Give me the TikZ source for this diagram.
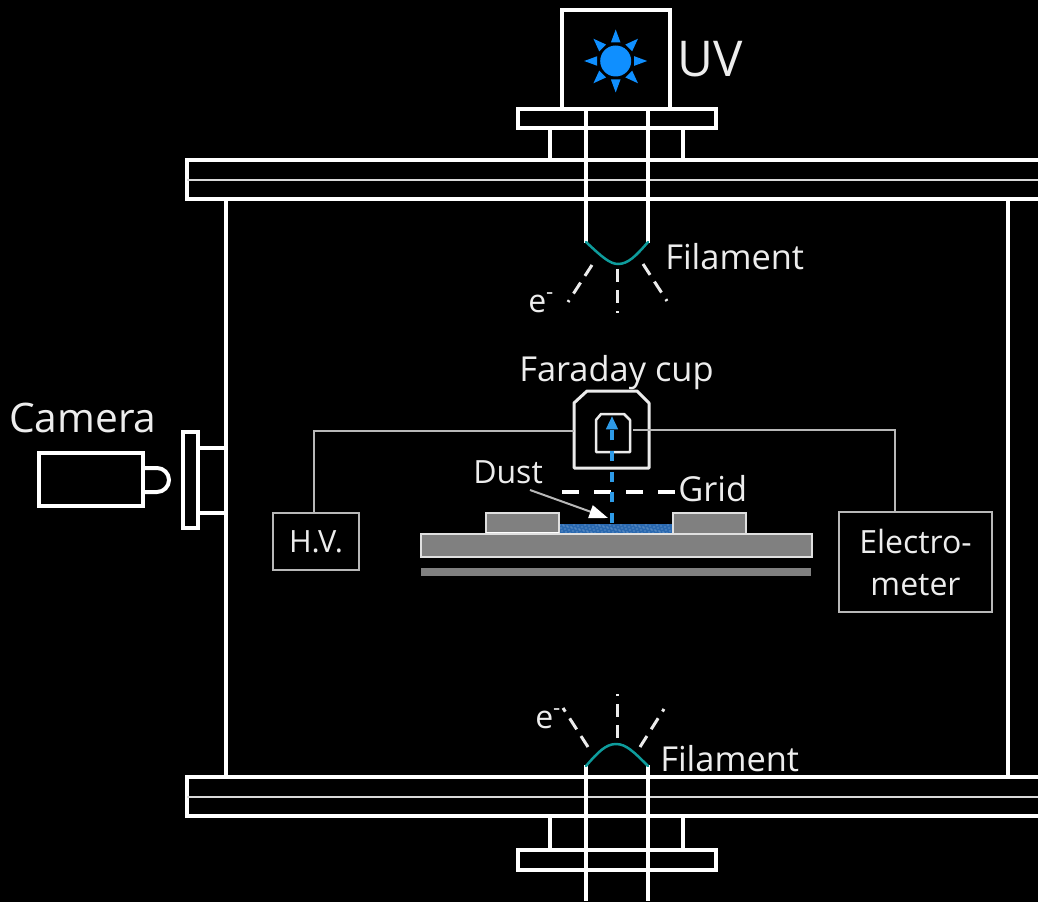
\documentclass[tikz,border=0pt]{standalone}
\usepackage{fontspec}
\setmainfont{Open Sans}
\usetikzlibrary{arrows.meta}
\definecolor{sunblue}{HTML}{0F8FFF}
\definecolor{rayblue}{HTML}{2E9BE8}
\definecolor{teal2}{HTML}{0E9C9C}
\definecolor{wiregrey}{HTML}{B8B8B8}
\definecolor{slabgrey}{HTML}{808080}
\definecolor{dustblue}{HTML}{2A69B0}
\definecolor{txt}{HTML}{EDEDED}
\tikzset{
  px/.style={line width=#1*0.75pt},
  hw/.style={draw=white,px=4,line join=miter},
  thin/.style={draw=white!85!black,px=2},
  wire/.style={draw=wiregrey,px=2},
  fila/.style={draw=teal2,px=2.5,line cap=round},
  emit/.style={draw=white!92!black,px=3,dash pattern=on 9.75pt off 6pt},
  label/.style={text=txt,inner sep=0pt,anchor=base west,font=\fontsize{25.8}{31.5}\selectfont},
  boxed/.style={draw=wiregrey,px=2,text=txt,inner sep=0pt,align=center,font=\fontsize{24}{31.5}\selectfont},
  slab/.style={fill=slabgrey,draw=white!88!black,px=2},
}
\begin{document}
\begin{tikzpicture}[x=0.75pt,y=-0.75pt]
\useasboundingbox (0,0) rectangle (1038,902);
\fill[black] (0,0) rectangle (1038,902);
% chamber walls
\draw[hw] (226,200) -- (226,776);
\draw[hw] (1008,200) -- (1008,776);
% top flange
\draw[hw] (1040,160) -- (187,160) -- (187,199.5) -- (1040,199.5);
\draw[thin] (187,180) -- (1040,180);
% bottom flange
\draw[hw] (1040,777) -- (187,777) -- (187,816) -- (1040,816);
\draw[thin] (187,797) -- (1040,797);
% UV housing
\draw[hw] (561.5,10) rectangle (669.5,109);
\draw[hw] (518,109) rectangle (716,128);
\draw[hw] (549.5,128) -- (549.5,160);
\draw[hw] (682.5,128) -- (682.5,160);
\draw[hw] (586,109) -- (586,243);
\draw[hw] (648,109) -- (648,243);
% sun
\foreach \a in {0,45,...,315}{
  \fill[sunblue,shift={(615.7,61)},rotate=\a] (18.5,-4.8) -- (31.5,0) -- (18.5,4.8) -- cycle;
}
\fill[black] (615.7,61) circle (17);
\fill[sunblue] (615.7,61) circle (15.5);
% top filament and electrons
\draw[fila] (586,242) .. controls (602,257) and (610,264) .. (618,264) .. controls (628,264) and (636,256) .. (648,242);
\draw[emit] (592,265) -- (568,302);
\draw[emit] (617,269) -- (617,313);
\draw[emit] (643,264) -- (667,301);
% bottom port
\draw[hw] (549.5,816) -- (549.5,850);
\draw[hw] (682.5,816) -- (682.5,850);
\draw[hw] (518,850) rectangle (716,870);
\draw[hw] (586,765) -- (586,901);
\draw[hw] (648,765) -- (648,901);
\draw[fila] (586,766) .. controls (598,752) and (606,744) .. (616,744) .. controls (626,744) and (634,752) .. (648,766);
\draw[emit] (588,747) -- (563,708);
\draw[emit] (617,738) -- (617,694);
\draw[emit] (640,747) -- (664,709);
% camera
\draw[hw] (39,453) rectangle (143,506);
\draw[hw] (144,468) -- (157,468) arc[start angle=-90,end angle=90,radius=12] -- (144,492);
\draw[hw] (183,432) rectangle (197.5,528);
\draw[hw] (197.5,448) -- (226,448);
\draw[hw] (197.5,513) -- (226,513);
% stage
\fill[slabgrey] (421,568) rectangle (811,576);
\fill[dustblue] (559,524) rectangle (672,534);
\foreach \i in {0,...,110}{
  \pgfmathsetmacro{\dx}{560+\i}
  \pgfmathsetmacro{\dy}{525+mod(\i*7+mod(\i,4)*5,9)}
  \fill[white!50!dustblue] (\dx,\dy) circle (0.7);
}
\draw[slab] (486,513) rectangle (559,534);
\draw[slab] (672.5,513) rectangle (746,534);
\draw[white,px=2.5] (486,533.5) -- (559,533.5);
\draw[slab] (421,534) rectangle (812,557);
% Faraday cup
\draw[draw=white!92!black,px=3,line join=round] (574,468) -- (574,403) -- (587,391) -- (637,391) -- (649,403) -- (649,468) -- cycle;
\draw[draw=white!92!black,px=2.5,line join=round] (596,452) -- (596,420) -- (601,414) -- (624,414) -- (630,420) -- (630,452) -- cycle;
% grid
\coordinate (gridL) at (562,492);
\coordinate (gridR) at (675,492);
\draw[draw=white,px=4,dash pattern=on 12.75pt off 11.25pt] (gridL) -- (gridR);
% ion path
\coordinate (rayStart) at (612,523);
\coordinate (rayEnd) at (612,416);
\draw[draw=rayblue,px=3.5,dash pattern=on 7.5pt off 8pt,-{Triangle[length=10pt,width=8.5pt]}] (rayStart) -- (rayEnd);
% labels
\node[label,font=\fontsize{37}{42}\selectfont] (uv) at (677,77) {UV};
\node[label] (fil1) at (665,269) {Filament};
\node[label] (fil2) at (660,771) {Filament};
\node[label,font=\fontsize{24}{30}\selectfont] (el1) at (528,312) {e\textsuperscript{-}};
\node[label,font=\fontsize{24}{30}\selectfont] (el2) at (535,728) {e\textsuperscript{-}};
\node[label] (fc) at (519,381) {Faraday cup};
\node[label,font=\fontsize{30.5}{36}\selectfont] (cam) at (9,432) {Camera};
\node[label,font=\fontsize{24}{30}\selectfont] (dust) at (473,483) {Dust};
\node[label] (grid) at (678,501) {Grid};
% boxes and wires
\node[boxed,font=\fontsize{23}{30}\selectfont,minimum width=64.5pt,minimum height=42.75pt] (hv) at (316,541.5) {H.V.};
\node[boxed,minimum width=114.75pt,minimum height=75pt] (em) at (915.5,562) {Electro-\\meter};
\coordinate (cupL) at (574,431);
\coordinate (cupR) at (633,430);
\coordinate (wireL) at (314,431);
\coordinate (wireR) at (895,430);
\draw[wire] (wireL|-hv.north) -- (wireL) -- (cupL);
\draw[wire] (wireR|-em.north) -- (wireR) -- (cupR);
% dust pointer
\coordinate (dustTail) at (530,490);
\coordinate (dustTip) at (608,518);
\draw[draw=wiregrey,px=2,-{Triangle[length=14pt,width=10pt,fill=white,color=white]}] (dustTail) -- (dustTip);
\end{tikzpicture}
\end{document}
